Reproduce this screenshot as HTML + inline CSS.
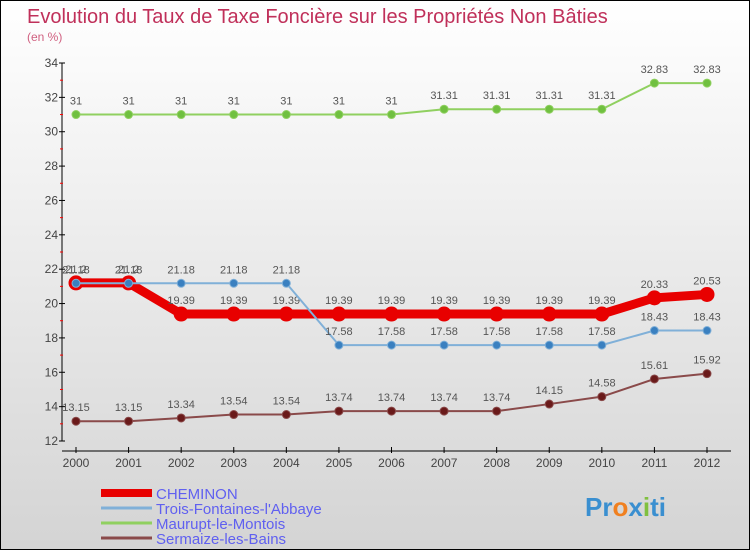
<!DOCTYPE html>
<html><head><meta charset="utf-8">
<style>
body{margin:0;}
#wrap{width:750px;height:550px;position:relative;box-sizing:border-box;border:1px solid #000;background:linear-gradient(#ffffff,#d4d4d4);overflow:hidden;font-family:"Liberation Sans",sans-serif;}
svg text{font-family:"Liberation Sans",sans-serif;}
</style></head>
<body>
<div id="wrap">
<svg id="svg" width="750" height="550">
<text x="26" y="22" font-size="20" fill="#c0305a">Evolution du Taux de Taxe Foncière sur les Propriétés Non Bâties</text>
<text x="26" y="40" font-size="12" fill="#d06080">(en %)</text>
<g id="axes"></g><g id="series"></g><g id="legend"></g>
<text x="584" y="515" font-size="26" font-weight="bold" fill="#3a8fd0">Pr<tspan fill="#f08020">o</tspan>x<tspan fill="#80c040">i</tspan>ti</text>
</svg>
</div>
<script>
const years=[2000,2001,2002,2003,2004,2005,2006,2007,2008,2009,2010,2011,2012];
const cheminon=[21.2,21.2,19.39,19.39,19.39,19.39,19.39,19.39,19.39,19.39,19.39,20.33,20.53];
const trois=[21.18,21.18,21.18,21.18,21.18,17.58,17.58,17.58,17.58,17.58,17.58,18.43,18.43];
const maurupt=[31,31,31,31,31,31,31,31.31,31.31,31.31,31.31,32.83,32.83];
const sermaize=[13.15,13.15,13.34,13.54,13.54,13.74,13.74,13.74,13.74,14.15,14.58,15.61,15.92];
const yTicks=[12,14,16,18,20,22,24,26,28,30,32,34];
const NS="http://www.w3.org/2000/svg";
function X(i){return 75+i*(706-75)/12;}
function Y(v){return 440-(v-12)*(440-62)/22;}
function mk(tag,attrs,parent){const e=document.createElementNS(NS,tag);for(const k in attrs)e.setAttribute(k,attrs[k]);parent.appendChild(e);return e;}
const ax=document.getElementById('axes');
let l=mk('line',{x1:61,y1:62,x2:61,y2:440,stroke:'#000','stroke-width':1},ax);


l=mk('line',{x1:61,y1:450,x2:730,y2:450,stroke:'#000','stroke-width':1},ax);


yTicks.forEach((v,i)=>{
 mk('line',{x1:58,y1:Y(v),x2:64,y2:Y(v),stroke:'#000'},ax);
 if(i<yTicks.length-1) mk('line',{x1:59,y1:Y(v+1),x2:62,y2:Y(v+1),stroke:'#f00'},ax);
 const t=mk('text',{x:57,y:Y(v)+4,'text-anchor':'end','font-size':12,fill:'#444'},ax);
 t.textContent=v;
 
 
});
years.forEach((yr,i)=>{
 mk('line',{x1:X(i),y1:446,x2:X(i),y2:452,stroke:'#000'},ax);
 const t=mk('text',{x:X(i),y:466,'text-anchor':'middle','font-size':12,fill:'#444'},ax);
 t.textContent=yr;
 
 
});
const sg=document.getElementById('series');
function draw(vals,color,lw,r,dot,name){
 const g=mk('g',{},sg);
 
 
 mk('polyline',{points:vals.map((v,i)=>X(i)+','+Y(v)).join(' '),fill:'none',stroke:color,'stroke-width':lw,'stroke-linejoin':'round'},g);
 vals.forEach((v,i)=>{
  const c=mk('circle',{cx:X(i),cy:Y(v),r:r,fill:dot,stroke:color,'stroke-width':1},g);
  
  
  const t=mk('text',{x:X(i),y:Y(v)-10,'text-anchor':'middle','font-size':11,fill:'#555'},g);
  t.textContent=v;
  
  
 });
}
draw(maurupt,'#90d060',2,4,'#70c040','series-maurupt');
draw(sermaize,'#8a4a4a',2,4,'#6a1a1a','series-sermaize');
draw(cheminon,'#e80000',9,7,'#e80000','series-cheminon');
draw(trois,'#80b0d8',2,4,'#3a80c0','series-trois-fontaines');
const lg=document.getElementById('legend');
const items=[['CHEMINON','#e80000',8],["Trois-Fontaines-l'Abbaye",'#80b0d8',3],['Maurupt-le-Montois','#90d060',3],['Sermaize-les-Bains','#8a4a4a',3]];
items.forEach((it,i)=>{
 const y=492+i*15;
 const g=mk('g',{},lg);
 
 
 mk('line',{x1:100,y1:y,x2:151,y2:y,stroke:it[1],'stroke-width':it[2]},g);
 const t=mk('text',{x:155,y:y+6,'font-size':15,fill:'#6060f0'},g);
 t.textContent=it[0];
});
</script>
</body></html>
